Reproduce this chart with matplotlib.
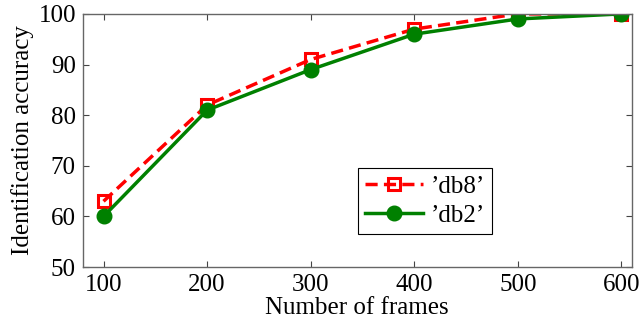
import matplotlib
matplotlib.use('Agg')
import matplotlib.pyplot as plt

frames = [100, 200, 300, 400, 500, 600]
acc_db8 = [63, 82, 91, 97, 100, 100]
acc_db2 = [60, 81, 89, 96, 99, 100]

plt.rcParams['font.family'] = ['Liberation Serif', 'DejaVu Serif']
plt.rcParams['font.size'] = 18

fig = plt.figure(figsize=(6.42, 3.31), dpi=100)
ax = fig.add_axes([0.129, 0.193, 0.855, 0.765])

ax.plot(frames, acc_db8, color='red', linestyle='--', dashes=(3.5, 1.8), linewidth=2.5,
        marker='s', markersize=8, markerfacecolor='none', markeredgewidth=2.2,
        label='’db8’')
ax.plot(frames, acc_db2, color='#008000', linestyle='-', linewidth=2.5,
        marker='o', markersize=10.5, label='’db2’')

ax.set_xlim(80, 610)
ax.set_ylim(50, 100)
ax.set_xticks(frames)
ax.set_yticks([50, 60, 70, 80, 90, 100])
ax.tick_params(direction='in', top=True, right=True, length=4, width=0.8,
               color='#444444', labelsize=18, pad=5)
for s in ax.spines.values():
    s.set_color('#666666')
    s.set_linewidth(1)

ax.set_xlabel('Number of frames', fontsize=18, labelpad=1)
ax.set_ylabel('Identification accuracy', fontsize=18, labelpad=3)

leg = ax.legend(loc='upper left', bbox_to_anchor=(0.501, 0.391), fancybox=False,
                edgecolor='black', framealpha=1, handlelength=2.3, borderpad=0.3,
                labelspacing=0.25, handletextpad=0.3, borderaxespad=0, fontsize=18)
leg.get_frame().set_linewidth(0.8)

fig.savefig('out.png', dpi=100)
